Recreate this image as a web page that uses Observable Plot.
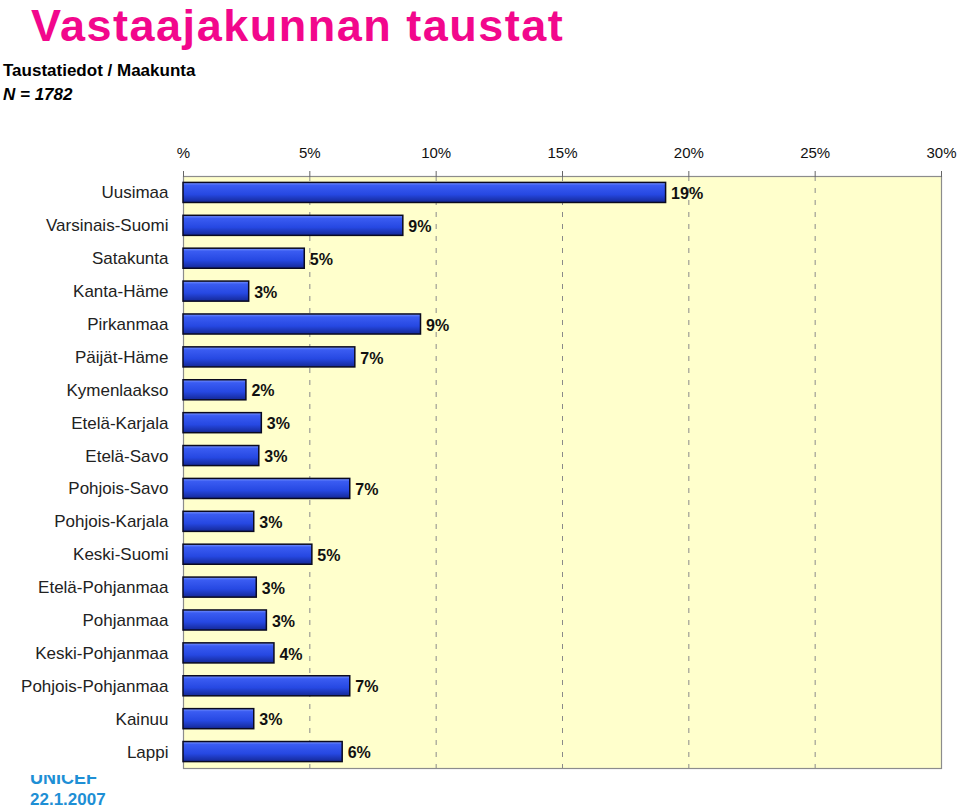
<!DOCTYPE html>
<html>
<head>
<meta charset="utf-8">
<script src="https://cdn.jsdelivr.net/npm/d3@7"></script>
<script src="https://cdn.jsdelivr.net/npm/@observablehq/plot@0.6"></script>
<style>
  html, body { margin: 0; padding: 0; background: #fff; width: 960px; height: 809px; overflow: hidden; font-family: "Liberation Sans", Arial, sans-serif; }
  .abs { position: absolute; white-space: nowrap; }
  #title { left: 31px; top: 0px; font-size: 45px; line-height: normal; font-weight: bold; color: #F2078C; letter-spacing: 1.5px; }
  #sub { left: 3px; top: 61px; font-size: 17px; line-height: 20px; font-weight: bold; color: #000; }
  #n { left: 3px; top: 85px; font-size: 17px; line-height: 20px; font-weight: bold; font-style: italic; color: #000; }
  #chart { left: 0; top: 130px; z-index: 2; }
  #chart svg { background: #fff; }
  #unicef { left: 30px; top: 768px; font-size: 18px; line-height: 20px; font-weight: bold; color: #1E8FD5; z-index: 1; }
  #date { left: 30px; top: 790px; font-size: 17px; line-height: 20px; font-weight: bold; color: #1E8FD5; z-index: 1; }
</style>
</head>
<body>
<div id="title" class="abs">Vastaajakunnan taustat</div>
<div id="sub" class="abs">Taustatiedot / Maakunta</div>
<div id="n" class="abs">N = 1782</div>
<div id="unicef" class="abs">UNICEF</div>
<div id="date" class="abs">22.1.2007</div>
<div id="chart" class="abs"></div>
<script>
const regions = ["Uusimaa","Varsinais-Suomi","Satakunta","Kanta-Häme","Pirkanmaa","Päijät-Häme","Kymenlaakso","Etelä-Karjala","Etelä-Savo","Pohjois-Savo","Pohjois-Karjala","Keski-Suomi","Etelä-Pohjanmaa","Pohjanmaa","Keski-Pohjanmaa","Pohjois-Pohjanmaa","Kainuu","Lappi"];
const shares = [19.1, 8.7, 4.8, 2.6, 9.4, 6.8, 2.49, 3.1, 3.0, 6.6, 2.8, 5.1, 2.9, 3.3, 3.6, 6.6, 2.8, 6.3];
const xTicks = [0, 5, 10, 15, 20, 25, 30];
const gridTicks = [5, 10, 15, 20, 25];

const data = regions.map((r, i) => ({region: r, value: shares[i]}));

const defs = () => {
  const ns = "http://www.w3.org/2000/svg";
  const d = document.createElementNS(ns, "defs");
  const g = document.createElementNS(ns, "linearGradient");
  g.setAttribute("id", "barGrad");
  g.setAttribute("x1", "0"); g.setAttribute("y1", "0");
  g.setAttribute("x2", "0"); g.setAttribute("y2", "1");
  [["0", "#7a96ff"], ["0.15", "#3a5cf2"], ["0.6", "#2648e2"], ["1", "#142896"]].forEach(([o, c]) => {
    const s = document.createElementNS(ns, "stop");
    s.setAttribute("offset", o); s.setAttribute("stop-color", c);
    g.appendChild(s);
  });
  d.appendChild(g);
  return d;
};

const plot = Plot.plot({
  width: 960,
  height: 645,
  marginTop: 46,
  marginBottom: 7,
  marginLeft: 183,
  marginRight: 19,
  style: {fontFamily: "'Liberation Sans', Arial, sans-serif", background: "#fff"},
  x: {domain: [0, 30]},
  y: {domain: regions, paddingInner: 0.39, paddingOuter: 0.195, round: false},
  marks: [
    defs,
    Plot.frame({fill: "#FFFFCC", stroke: null}),
    Plot.ruleX(gridTicks, {stroke: "#8a8a8a", strokeDasharray: "5,7", strokeWidth: 1}),
    Plot.frame({stroke: "#8c8c8c", strokeWidth: 1.2}),
    Plot.axisX(xTicks, {anchor: "top", tickSize: 6, tickPadding: 13, fontSize: 15, stroke: "#666", fill: "#111", tickFormat: d => d === 0 ? "%" : d + "%", label: null}),
    Plot.axisY({anchor: "left", tickSize: 0, tickPadding: 15, fontSize: 17, fill: "#222", label: null}),
    Plot.barX(data, {x: "value", y: "region", fill: "url(#barGrad)", stroke: "#0a0a20", strokeWidth: 1.5}),
    Plot.text(data, {x: "value", y: "region", text: d => Math.round(d.value) + "%", textAnchor: "start", dx: 5, dy: 1, fontSize: 16, fontWeight: "bold", fill: "#111"})
  ]
});
document.getElementById("chart").appendChild(plot);
</script>
</body>
</html>
